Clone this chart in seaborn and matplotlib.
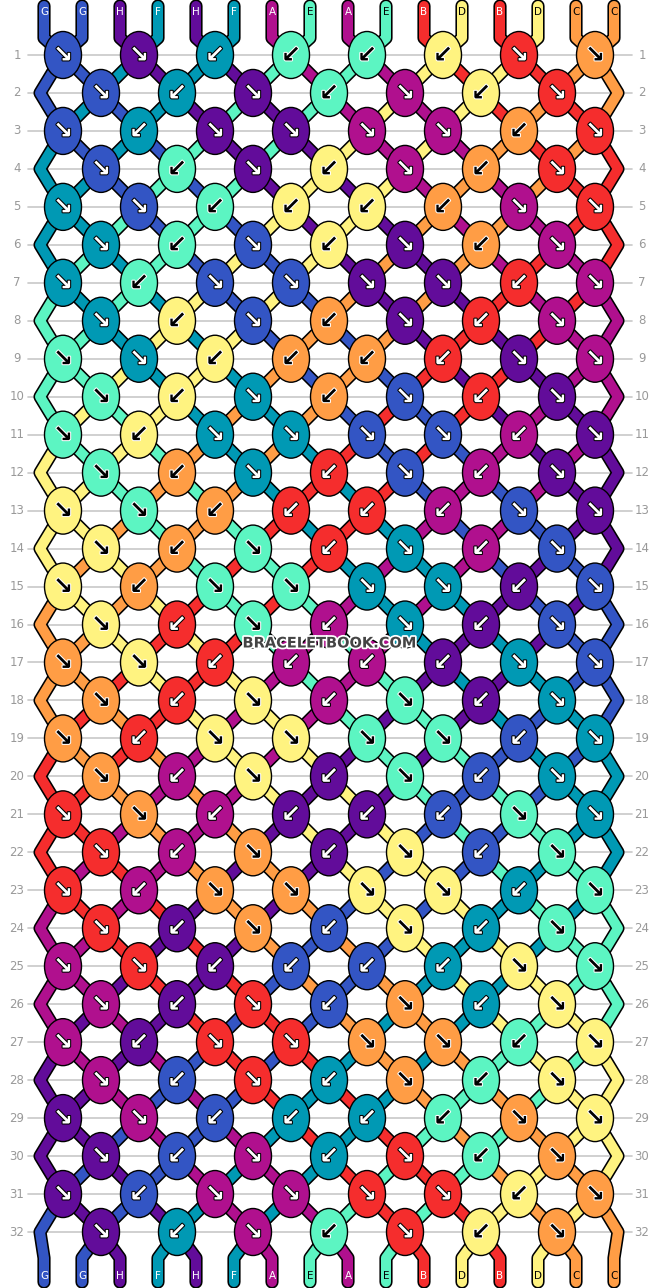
import matplotlib
matplotlib.use("Agg")
import matplotlib.pyplot as plt
import matplotlib.patheffects as pe
from matplotlib.patches import Ellipse
import seaborn as sns

# ---- data ----
start_strings = ["G","G","H","F","H","F","A","E","A","E","B","D","B","D","C","C"]
palette = {"A": "#B0108E", "B": "#F52D2D", "C": "#FF9D45", "D": "#FFF380",
           "E": "#5CF5C2", "F": "#0099B4", "G": "#3355C4", "H": "#620C9A"}
dark_text = {"C", "D", "E"}
# knot directions per row: 'f' = forward (↘), 'b' = backward (↙)
row_dirs = [
    "ffbbbbff", "fbfbfbf", "fbffffbf", "fbfbfbf",
    "ffbbbbff", "fbfbfbf", "fbffffbf", "fbfbfbf",
    "ffbbbbff", "fbfbfbf", "fbffffbf", "fbfbfbf",
    "ffbbbbff", "fbfbfbf", "fbffffbf", "fbfbfbf",
    "ffbbbbff", "fbfbfbf", "fbffffbf", "fbfbfbf",
    "ffbbbbff", "fbfbfbf", "fbffffbf", "fbfbfbf",
    "ffbbbbff", "fbfbfbf", "fbffffbf", "fbfbfbf",
    "ffbbbbff", "fbfbfbf", "fbffffbf", "fbfbfbf",
]
row_labels = [str(i + 1) for i in range(len(row_dirs))]

# ---- layout ----
W, H = 658, 1288
Y0, DY = 55.0, (1232 - 55) / 31.0
XS = [44 + 38 * p for p in range(16)]

sns.set_theme(style="white")
fig = plt.figure(figsize=(W / 100, H / 100), dpi=100)
ax = fig.add_axes([0, 0, 1, 1])
ax.set_xlim(0, W)
ax.set_ylim(H, 0)
ax.axis("off")

for r, lab in enumerate(row_labels):
    y = Y0 + r * DY
    ax.plot([28, 632], [y, y], color="#C8C8C8", lw=1.2, zorder=0)
    ax.text(17, y, lab, ha="center", va="center", fontsize=8.5, color="#999999")
    ax.text(642, y, lab, ha="center", va="center", fontsize=8.5, color="#999999")

strings = list(range(16))
paths = {i: [(XS[i], 6), (XS[i], 38)] for i in range(16)}
knots = []
for r, dirs in enumerate(row_dirs):
    y = Y0 + r * DY
    off = 0 if r % 2 == 0 else 1
    xpos = {}
    for k, d in enumerate(dirs):
        p = off + 2 * k
        x = (63 if off == 0 else 101) + 76 * k
        a, b = strings[p], strings[p + 1]
        col = start_strings[a] if d == "f" else start_strings[b]
        knots.append((x, y, col, d))
        xpos[p] = x
        xpos[p + 1] = x
        strings[p], strings[p + 1] = b, a
    for p in range(16):
        if p not in xpos:
            xpos[p] = 40 if p == 0 else 618
    for p in range(16):
        paths[strings[p]].append((xpos[p], y))
yb = Y0 + 31 * DY
for p in range(16):
    sid = strings[p]
    paths[sid].append((XS[p], yb + 26))
    paths[sid].append((XS[p], 1282))

for sid, pts in paths.items():
    xs, ys = zip(*pts)
    ax.plot(xs, ys, color="black", lw=9.5, solid_capstyle="round", solid_joinstyle="round", zorder=1)
for sid, pts in paths.items():
    xs, ys = zip(*pts)
    ax.plot(xs, ys, color=palette[start_strings[sid]], lw=7.2, solid_capstyle="round",
            solid_joinstyle="round", zorder=2)

for p in range(16):
    top = start_strings[p]
    bot = start_strings[strings[p]]
    for lab, y in ((top, 12), (bot, 1276)):
        ax.text(XS[p], y, lab, ha="center", va="center", fontsize=7.5,
                color="black" if lab in dark_text else "white", zorder=3)

for x, y, col, d in knots:
    ax.add_patch(Ellipse((x, y), 37, 47, facecolor=palette[col], edgecolor="black", lw=1.0, zorder=4))
    light = col in dark_text
    arrow = "↘" if d == "f" else "↙"
    fc = "black" if light else "white"
    ax.text(x, y, arrow, ha="center", va="center", fontsize=17, fontweight="bold", color=fc, zorder=5,
            path_effects=[pe.withStroke(linewidth=1.5, foreground="white" if light else "black")])

ax.text(330, 643, "BRACELETBOOK.COM", ha="center", va="center", fontsize=10.5, fontweight="bold",
        color="#444444", zorder=6, path_effects=[pe.withStroke(linewidth=2.5, foreground="white")])

fig.savefig("out.png", dpi=100)
